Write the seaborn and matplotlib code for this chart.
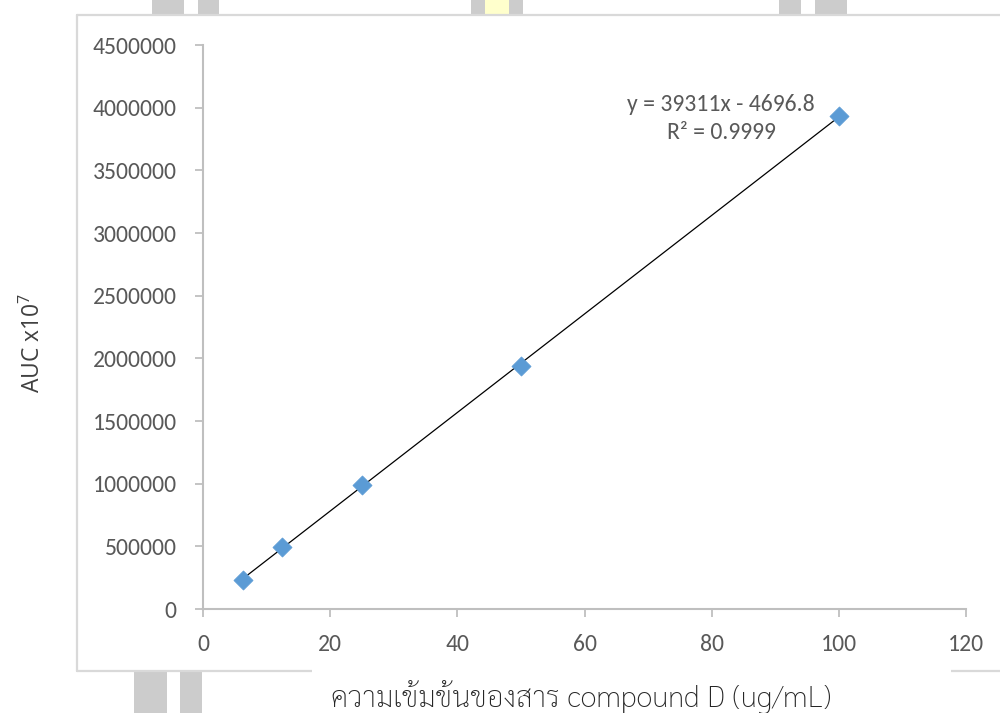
import matplotlib
matplotlib.use("Agg")
import matplotlib.pyplot as plt
from matplotlib.patches import Rectangle
from matplotlib.lines import Line2D
import numpy as np
import pandas as pd
import seaborn as sns

# Calibration standards: concentration (ug/mL) vs. peak area
concentration = [6.25, 12.5, 25, 50, 100]
auc = [231000, 495000, 989000, 1939000, 3934000]

# Linear trendline reported for the calibration
slope = 39311
intercept = -4696.8
r_squared = 0.9999

x_ticks = [0, 20, 40, 60, 80, 100, 120]
y_ticks = [0, 500000, 1000000, 1500000, 2000000, 2500000, 3000000, 3500000, 4000000, 4500000]

x_title = "ความเข้มข้นของสาร compound D (ug/mL)"
y_title = r"AUC x10$^{\mathrm{7}}$"

sns.set_theme(style="white")
plt.rcParams["font.family"] = ["Carlito", "DejaVu Sans"]
plt.rcParams["mathtext.fontset"] = "custom"
plt.rcParams["mathtext.rm"] = "Open Sans"

W, H = 1000, 713
fig = plt.figure(figsize=(W / 100, H / 100), dpi=100)
fig.patch.set_facecolor("white")


def px_rect(x0, y0, x1, y1, **kw):
    """Rectangle given in pixel coordinates measured from the top-left corner."""
    return Rectangle((x0 / W, 1 - y1 / H), (x1 - x0) / W, (y1 - y0) / H,
                     transform=fig.transFigure, figure=fig, **kw)


def px_line(x0, y0, x1, y1, **kw):
    return Line2D([x0 / W, x1 / W], [1 - y0 / H, 1 - y1 / H],
                  transform=fig.transFigure, figure=fig, **kw)


# background stripes behind the chart panel
grey = "#CCCCCC"
for x0, x1 in [(152, 184), (198, 219), (471, 485), (509, 523), (779, 801), (815, 847)]:
    fig.patches.append(px_rect(x0, 0, x1, 16, facecolor=grey, edgecolor="none", zorder=0))
fig.patches.append(px_rect(485, 0, 509, 16, facecolor="#FFFFCC", edgecolor="none", zorder=0))
for x0, x1 in [(134, 167), (180, 202)]:
    fig.patches.append(px_rect(x0, 671, x1, H, facecolor=grey, edgecolor="none", zorder=0))

# chart panel with its light border
fig.patches.append(px_rect(77, 15, W + 5, 671, facecolor="white", edgecolor="none", zorder=1))
border = dict(color="#D9D9D9", linewidth=1.6, zorder=2)
fig.lines.append(px_line(77, 15, W, 15, **border))
fig.lines.append(px_line(77, 15, 77, 671, **border))
fig.lines.append(px_line(77, 671, 312, 671, **border))
fig.lines.append(px_line(951, 671, W, 671, **border))

# plotting area
ax = fig.add_axes([203 / W, 1 - 609 / H, 763 / W, 564 / H])
ax.set_facecolor("none")
ax.set_zorder(3)

df = pd.DataFrame({"conc": concentration, "auc": auc})

# trendline from the reported equation, spanning the standards
fit_x = np.array([min(concentration), max(concentration)])
fit = pd.DataFrame({"conc": fit_x, "auc": slope * fit_x + intercept})
sns.lineplot(data=fit, x="conc", y="auc", ax=ax, color="black", linewidth=0.9, zorder=3)

sns.scatterplot(data=df, x="conc", y="auc", ax=ax, marker="D", s=95,
                color="#5B9BD5", edgecolor="#5B9BD5", linewidth=0.5, zorder=4)

ax.set_xlim(0, 120)
ax.set_ylim(0, 4500000)
ax.set_xticks(x_ticks)
ax.set_yticks(y_ticks)
ax.set_xticklabels([str(v) for v in x_ticks])
ax.set_yticklabels([str(v) for v in y_ticks])

axis_color = "#BFBFBF"
for side in ("top", "right"):
    ax.spines[side].set_visible(False)
for side in ("left", "bottom"):
    ax.spines[side].set_color(axis_color)
    ax.spines[side].set_linewidth(1.5)
ax.tick_params(axis="both", which="major", direction="out", length=6, width=1.3,
               color=axis_color, labelcolor="#595959", labelsize=17)
ax.tick_params(axis="y", pad=13, left=True)
ax.tick_params(axis="x", pad=12, bottom=True)
ax.set_xlabel("")
ax.set_ylabel("")
ax.grid(False)

# trendline equation and fit quality
sign = "-" if intercept < 0 else "+"
eq_line = f"y = {slope}x {sign} {abs(intercept)}"
r2_line = f"R² = {r_squared}"
ax.text(81.5, 4029000, eq_line, ha="center", va="center", fontsize=17,
        color="#595959", zorder=5)
ax.text(81.5, 3798000, r2_line, ha="center", va="center", fontsize=17,
        color="#595959", zorder=5)

# axis titles
fig.text(33 / W, 1 - 343 / H, y_title, rotation=90, ha="center", va="center",
         fontsize=16.5, color="#404040", family=["Open Sans", "DejaVu Sans"], zorder=5)
fig.patches.append(px_rect(312, 666, 951, H, facecolor="white", edgecolor="none", zorder=2))
fig.text(581 / W, 1 - 697 / H, x_title, ha="center", va="center", fontsize=21.2,
         fontweight="light", color="#262626", family=["Sarabun", "DejaVu Sans"], zorder=5)

fig.savefig("out.png", dpi=100, facecolor="white")
